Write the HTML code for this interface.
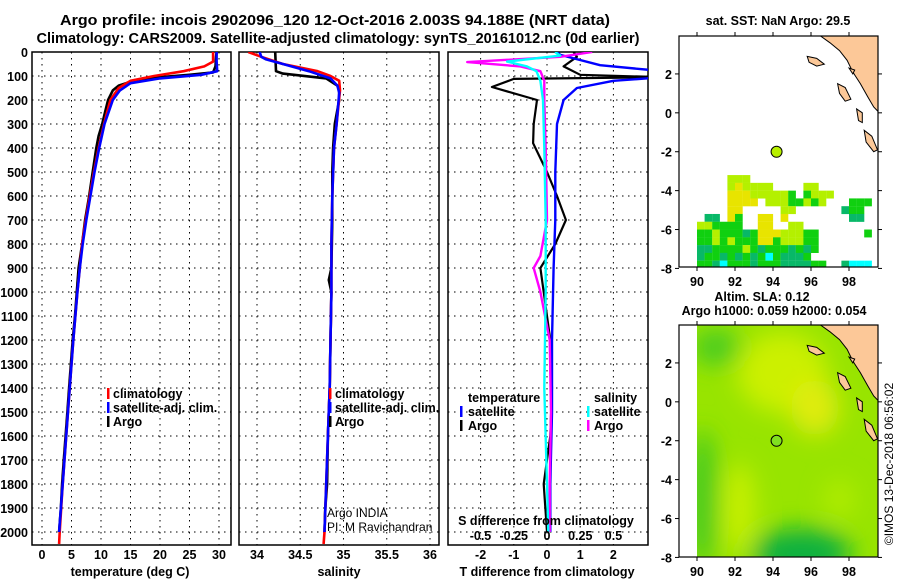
<!DOCTYPE html>
<html><head><meta charset="utf-8"><style>
html,body{margin:0;padding:0;background:#fff}
svg{display:block;font-family:"Liberation Sans",sans-serif}
.b{font-weight:bold;font-size:14.5px}
.t{font-weight:bold;font-size:12.5px}
</style></head><body>
<svg id="s" width="900" height="580" viewBox="0 0 900 580">
<text class="b" x="335" y="25" text-anchor="middle" textLength="550" lengthAdjust="spacingAndGlyphs">Argo profile: incois 2902096_120 12-Oct-2016 2.003S 94.188E (NRT data)</text>
<text class="b" x="338" y="43" text-anchor="middle" textLength="603" lengthAdjust="spacingAndGlyphs">Climatology: CARS2009. Satellite-adjusted climatology: synTS_20161012.nc (0d earlier)</text>
<g id="g"></g>
</svg>
<script>
// ---- data ----
const depthLabels=[0,100,200,300,400,500,600,700,800,900,1000,1100,1200,1300,1400,1500,1600,1700,1800,1900,2000];
const tempTicks=[0,5,10,15,20,25,30];
const salTicks=[34,34.5,35,35.5,36];
const tdTicks=[-2,-1,0,1,2];
const sdTicks=[-0.5,-0.25,0,0.25,0.5];
const tArgoZ=[0,20,60,85,95,105,120,140,160,200,250,300,350,400,500,600,700,800,900,1000,1100,1200,1300,1400,1500,1600,1700,1800,1900,2000];
const tArgo=[29.6,29.5,29.4,29.0,25,20,15.5,13,12,11.2,10.7,10.2,9.6,9.2,8.6,8.0,7.3,6.8,6.2,5.9,5.6,5.2,4.9,4.6,4.3,4.0,3.7,3.4,3.2,2.9];
const tClimZ=[0,40,60,80,100,120,150,200,300,400,500,600,700,800,900,1000,1200,1400,1600,1800,2000,2050];
const tClim=[29.0,29.0,27.5,24,19,15,13,11.6,10.5,9.6,8.8,8.1,7.4,6.8,6.4,6.0,5.3,4.7,4.1,3.5,3.0,2.9];
const tSatZ=[0,40,80,95,110,130,160,200,300,400,500,600,700,800,900,1000,1200,1400,1600,1800,2000];
const tSat=[29.6,29.6,29.7,27,20,15,13.2,12,10.6,9.7,8.9,8.2,7.5,6.9,6.4,6.0,5.3,4.7,4.1,3.5,2.9];
const sArgoZ=[0,80,90,110,140,160,200,300,400,500,700,900,950,1000,1200,1400,1600,1800,1900,2000];
const sArgo=[34.21,34.22,34.3,34.8,34.93,34.95,34.95,34.9,34.88,34.87,34.87,34.86,34.83,34.86,34.85,34.84,34.82,34.81,34.79,34.78];
const sClimZ=[0,20,50,80,100,120,160,300,400,600,800,1000,1200,1400,1600,1800,2000,2050];
const sClim=[33.9,34.05,34.3,34.7,34.85,34.95,34.96,34.92,34.89,34.87,34.86,34.86,34.85,34.84,34.82,34.8,34.78,34.77];
const sSatZ=[0,20,30,50,80,110,140,170,300,400,600,800,1000,1200,1400,1600,1800,2000];
const sSat=[34.03,34.05,34.1,34.3,34.6,34.85,34.93,34.95,34.92,34.89,34.87,34.86,34.86,34.85,34.84,34.82,34.8,34.78];
const dTArgoZ=[0,20,60,95,105,112,146,200,300,380,500,600,700,800,900,1000,1200,1400,1600,1800,2000];
const dTArgo=[0.8,0.9,0.5,1,3.5,-1.0,-1.66,-0.3,-0.4,-0.42,0,0.3,0.57,0.25,-0.2,-0.1,0.1,0.15,0.1,-0.1,0];
const dTSatZ=[0,12,55,80,100,120,150,200,300,500,700,900,1200,1500,1800,2000];
const dTSat=[0.3,0.4,1.6,3.5,4,2.0,0.9,0.5,0.3,0.25,0.25,0.2,0.15,0.15,0.1,0.1];
const dSSatZ=[0,15,40,60,80,120,200,400,700,1000,1400,1800,2000];
const dSSat=[0.06,0.1,-0.3,-0.15,-0.08,-0.05,-0.03,-0.02,-0.01,-0.01,-0.02,0,0.01];
const dSArgoZ=[0,20,42,60,80,120,200,400,700,850,900,1000,1200,1500,1800,2000];
const dSArgo=[0.34,0.1,-0.6,-0.2,-0.05,-0.02,-0.02,-0.01,0,-0.05,-0.1,-0.05,0.02,0.03,0.02,0.02];
const mapLonTicks=[90,92,94,96,98];
const mapLatTicks=[2,0,-2,-4,-6,-8];
const argoLon=94.188, argoLat=-2.003;
const sstRows=[
"    lll",
"    lyllll    ll",
"    yyylllllg glll",
"    yyyy lllgglgl   ggg",
"    yy     ll      tgg",
" tt yg  yy y        tt",
"llgggg  yy  ll",
"gglgggtgyyylllgg      g",
"gglglgggyyglllgg",
"ttgggglgtgggtgtg",
"tggtgtgtgcgtttg",
"ggtcgggtgggttttgg  tccc"];
// ---- helpers ----
const NS="http://www.w3.org/2000/svg";const G=document.getElementById('g');
function mk(t,a,p){const e=document.createElementNS(NS,t);for(const k in a)e.setAttribute(k,a[k]);(p||G).appendChild(e);return e;}
const Y0=52,PY=0.24;const yD=d=>Y0+d*PY;const YB=545;
const panels=[{x0:32,x1:231},{x0:239,x1:439},{x0:448,x1:648}];
const xT=v=>42+v*5.9, xS=v=>257+(v-34)*86.5, xTD=v=>547+v*33.2, xSD=v=>547+v*133;
function grid(p,xs,nm){
 const r=mk('rect',{x:p.x0,y:Y0,width:p.x1-p.x0,height:YB-Y0,fill:'#fff',stroke:'#000','stroke-width':1.5});
 
 depthLabels.forEach(d=>{if(d>0){const l=mk('line',{x1:p.x0,x2:p.x1,y1:yD(d),y2:yD(d),stroke:'#000','stroke-dasharray':'1.5,4.5'});}});
 xs.forEach(x=>{const l=mk('line',{x1:x,x2:x,y1:Y0,y2:YB,stroke:'#000','stroke-dasharray':'1.5,4.5'});});
}
function line(zs,vs,fx,col,nm,w){
 const pts=zs.map((z,i)=>fx(vs[i]).toFixed(1)+','+yD(z).toFixed(1)).join(' ');
 const e=mk('polyline',{points:pts,fill:'none',stroke:col,'stroke-width':w||2.6,'stroke-linejoin':'round'});
 return e;
}
function txt(x,y,s,cls,anc,nm,extra){const e=mk('text',Object.assign({x:x,y:y,'text-anchor':anc||'start'},extra||{}));if(cls)e.setAttribute('class',cls);e.textContent=s;return e;}
function bar(x,y,col,nm){const e=mk('rect',{x:x,y:y-10,width:2.5,height:11,fill:col});}
const defs=mk('defs',{});
panels.forEach((p,i)=>{const c=mk('clipPath',{id:'c'+i},defs);mk('rect',{x:p.x0,y:Y0,width:p.x1-p.x0,height:YB-Y0},c);});
// panel 1
grid(panels[0],tempTicks.map(xT),'temperature-panel');
let g1=mk('g',{'clip-path':'url(#c0)'});
[[tArgoZ,tArgo,'#000','argo-temperature-line'],[tClimZ,tClim,'#f00','climatology-temperature-line'],[tSatZ,tSat,'#00f','satellite-adj-temperature-line']].forEach(a=>g1.appendChild(line(a[0],a[1],xT,a[2],a[3])));
depthLabels.forEach(d=>txt(28,yD(d)+5,d,'t','end','depth-tick-label'));
tempTicks.forEach(v=>txt(xT(v),559,v,'t','middle','temperature-tick-label'));
txt(130,576,'temperature (deg C)','t','middle','temperature-axis-title');
[['climatology','#f00'],['satellite-adj. clim.','#00f'],['Argo','#000']].forEach((l,i)=>{bar(107,398+i*14,l[1],'legend-marker');txt(113,398+i*14,l[0],'t','start','legend-entry');});
// panel 2
grid(panels[1],salTicks.map(xS),'salinity-panel');
let g2=mk('g',{'clip-path':'url(#c1)'});
[[sArgoZ,sArgo,'#000','argo-salinity-line'],[sClimZ,sClim,'#f00','climatology-salinity-line'],[sSatZ,sSat,'#00f','satellite-adj-salinity-line']].forEach(a=>g2.appendChild(line(a[0],a[1],xS,a[2],a[3])));
salTicks.forEach(v=>txt(xS(v),559,v,'t','middle','salinity-tick-label'));
txt(339,576,'salinity','t','middle','salinity-axis-title');
[['climatology','#f00'],['satellite-adj. clim.','#00f'],['Argo','#000']].forEach((l,i)=>{bar(329,398+i*14,l[1],'legend-marker');txt(335,398+i*14,l[0],'t','start','legend-entry');});
txt(327,517,'Argo INDIA',null,'start','argo-india-credit',{'font-size':'12'});
txt(327,531,'PI: M Ravichandran',null,'start','pi-credit',{'font-size':'12'});
// panel 3
grid(panels[2],tdTicks.map(xTD),'difference-panel');
let g3=mk('g',{'clip-path':'url(#c2)'});
g3.appendChild(line(dTArgoZ,dTArgo,xTD,'#000','argo-t-difference-line',2.2));
g3.appendChild(line(dTSatZ,dTSat,xTD,'#00f','satellite-t-difference-line',2.4));
g3.appendChild(line(dSArgoZ,dSArgo,xSD,'#f0f','argo-s-difference-line',2.4));
g3.appendChild(line(dSSatZ,dSSat,xSD,'#0ff','satellite-s-difference-line',2.4));
tdTicks.forEach(v=>txt(xTD(v),559,v,'t','middle','t-difference-tick-label'));
txt(547,576,'T difference from climatology','t','middle','t-difference-axis-title');
txt(546,525,'S difference from climatology','t','middle','s-difference-axis-title');
sdTicks.forEach(v=>txt(xSD(v),540,v,'t','middle','s-difference-tick-label'));
txt(468,402,'temperature','t','start','legend-title-temperature');
txt(594,402,'salinity','t','start','legend-title-salinity');
[['satellite','#00f','#0ff'],['Argo','#000','#f0f']].forEach((l,i)=>{bar(460,416+i*14,l[1],'legend-marker');txt(468,416+i*14,l[0],'t','start','legend-entry');bar(587,416+i*14,l[2],'legend-marker');txt(594,416+i*14,l[0],'t','start','legend-entry');});
// maps
const maps=[{top:36,bot:267,nm:'sst-map'},{top:325,bot:557,nm:'sla-map'}];
const MX0=679,MX1=878;const lonX=l=>697+(l-90)*19;
const land=[[96.5,3.95],[97.0,3.6],[97.5,3.2],[97.9,2.7],[98.2,2.1],[98.6,1.5],[99.0,0.8],[99.3,0.3],[99.6,0.0],[99.6,3.95]];
const isl=[[[95.8,2.9],[96.3,2.8],[96.7,2.5],[96.3,2.4],[95.9,2.6]],[[97.4,1.5],[97.8,1.3],[98.1,0.7],[97.8,0.6],[97.5,1.0]],[[98.4,0.2],[98.7,0.0],[98.7,-0.5],[98.5,-0.4]],[[98.8,-0.9],[99.2,-1.2],[99.5,-1.9],[99.3,-2.0],[98.9,-1.5]],[[98.0,2.3],[98.3,2.2],[98.2,2.0]]];
maps.forEach((m,mi)=>{
 const latY=la=>{const y0=m.top+(3.95-0)*19.45;return y0-la*19.45;};
 const c=mk('clipPath',{id:'m'+mi},defs);mk('rect',{x:MX0,y:m.top,width:MX1-MX0,height:m.bot-m.top},c);
 const g=mk('g',{'clip-path':'url(#m'+mi+')'});
 if(mi==0){
  const cols={y:'#e8e400',l:'#b4f000',g:'#10d010',t:'#08b868',c:'#00ffff'};
  sstRows.forEach((row,r)=>{for(let i=0;i<row.length;i++){const ch=row[i];if(ch===' ')continue;const lat=-3.2-0.4*r;
   const e=mk('rect',{x:lonX(90+0.4*i),y:latY(lat),width:7.7,height:7.9,fill:cols[ch]},g);}});
 }else{
  const f=mk('filter',{id:'bl',x:'-50%',y:'-50%',width:'200%',height:'200%'},defs);mk('feGaussianBlur',{stdDeviation:12},f);
  mk('rect',{x:MX0,y:m.top,width:MX1-MX0,height:m.bot-m.top,fill:'#98e400'},g);
  const bl=mk('g',{filter:'url(#bl)'},g);
  mk('ellipse',{cx:lonX(90.3),cy:latY(-5),rx:14,ry:70,fill:'#40c820'},bl);
  mk('ellipse',{cx:lonX(91),cy:latY(2.8),rx:25,ry:18,fill:'#48cc20'},bl);
  mk('ellipse',{cx:lonX(94.5),cy:latY(1.5),rx:45,ry:40,fill:'#ccf000'},bl);
  mk('ellipse',{cx:lonX(96.2),cy:latY(-0.3),rx:24,ry:28,fill:'#e0ec10'},bl);
  mk('ellipse',{cx:lonX(92.2),cy:latY(-5.5),rx:16,ry:45,fill:'#c8f000'},bl);
  mk('ellipse',{cx:lonX(95.5),cy:latY(-7.8),rx:50,ry:25,fill:'#10b040'},bl);
  mk('ellipse',{cx:lonX(97.5),cy:latY(-5),rx:15,ry:20,fill:'#b0ec00'},bl);
  mk('rect',{x:MX0,y:m.top,width:lonX(90)-MX0,height:m.bot-m.top,fill:'#fff'},g);
 }
 const P=a=>a.map(p=>lonX(p[0]).toFixed(1)+','+latY(p[1]).toFixed(1)).join(' ');
 const L=mk('polygon',{points:P(land),fill:'#fcc898',stroke:'#000','stroke-width':1},g);
 isl.forEach(a=>{const e=mk('polygon',{points:P(a),fill:'#fcc898',stroke:'#000','stroke-width':1},g);});
 const fr=mk('rect',{x:MX0,y:m.top,width:MX1-MX0,height:m.bot-m.top,fill:'none',stroke:'#000','stroke-width':1.2});
 const dot=mk('circle',{cx:lonX(argoLon),cy:latY(argoLat),r:5.5,fill:mi?'#80e020':'#b8f000',stroke:'#000','stroke-width':1});
 mapLonTicks.forEach(v=>{mk('line',{x1:lonX(v),x2:lonX(v),y1:m.bot,y2:m.bot+4,stroke:'#000'});mk('line',{x1:lonX(v),x2:lonX(v),y1:m.top,y2:m.top-4,stroke:'#000'});txt(lonX(v),m.bot+19,v,'t','middle','longitude-tick-label');});
 mapLatTicks.forEach(v=>{const y=latY(v);mk('line',{x1:MX0-4,x2:MX0,y1:y,y2:y,stroke:'#000'});mk('line',{x1:MX1,x2:MX1+4,y1:y,y2:y,stroke:'#000'});txt(672,y+5,v,'t','end','latitude-tick-label');});
});
txt(778,25,'sat. SST: NaN Argo: 29.5','t','middle','sst-map-title');
txt(762,301,'Altim. SLA: 0.12','t','middle','sla-map-title');
txt(774,315,'Argo h1000: 0.059 h2000: 0.054','t','middle','argo-height-text');
txt(0,0,'©IMOS 13-Dec-2018 06:56:02',null,'middle','imos-timestamp',{'font-size':'12',transform:'translate(893,464) rotate(-90)'});
</script>
</body></html>
